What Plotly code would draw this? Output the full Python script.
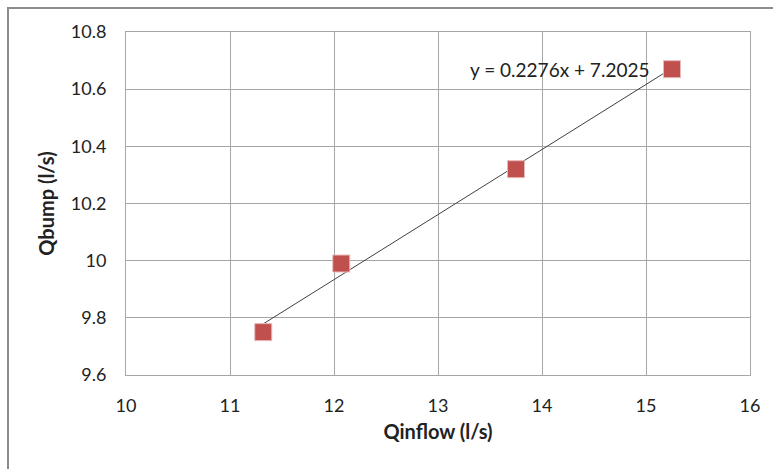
import numpy as np
import plotly.graph_objects as go

# Measured flows (l/s)
q_inflow = [11.32, 12.07, 13.75, 15.25]
q_bump = [9.75, 9.99, 10.32, 10.67]

# Linear trendline coefficients
slope = 0.2276
intercept = 7.2025

x_ticks = [10, 11, 12, 13, 14, 15, 16]
y_ticks = [9.6, 9.8, 10.0, 10.2, 10.4, 10.6, 10.8]
y_tick_text = ["9.6", "9.8", "10", "10.2", "10.4", "10.6", "10.8"]

FONT = "Lato, 'Open Sans', sans-serif"
GRID = "#a6a6a6"
TEXT = "#222"

trend_x = np.array([min(q_inflow), max(q_inflow)])
trend_y = slope * trend_x + intercept

fig = go.Figure()
fig.add_trace(go.Scatter(
    x=trend_x, y=trend_y, mode="lines",
    line=dict(color="#404040", width=1),
    hoverinfo="skip", showlegend=False,
))
fig.add_trace(go.Scatter(
    x=q_inflow, y=q_bump, mode="markers",
    marker=dict(symbol="square", size=17, color="#c0504d",
                line=dict(color="#e6b9b8", width=1)),
    showlegend=False,
))

fig.add_annotation(
    x=15.05, y=10.67, xref="x", yref="y",
    text=f"y = {slope}x + {intercept}",
    showarrow=False, xanchor="right", yanchor="middle",
    font=dict(family=FONT, size=19, color=TEXT),
)

# Chart-area border
fig.add_shape(type="rect", xref="paper", yref="paper",
              x0=-118 / 624, x1=800 / 624, y0=-120 / 343, y1=1 + 24 / 343,
              line=dict(color="#8c8c8c", width=2), layer="below")

fig.update_layout(
    width=773, height=469,
    margin=dict(l=126, r=23, t=32, b=94),
    paper_bgcolor="white", plot_bgcolor="white",
    font=dict(family=FONT, size=18, color=TEXT),
    xaxis=dict(
        range=[10, 16], tickvals=x_ticks, showgrid=True, gridcolor=GRID,
        showline=True, linecolor=GRID, mirror=True, zeroline=False,
        ticks="", ticklabelstandoff=14,
        title=dict(text="<b>Qinflow (l/s)</b>", standoff=10,
                   font=dict(family=FONT, size=20, color=TEXT)),
    ),
    yaxis=dict(
        range=[9.6, 10.8], tickvals=y_ticks, ticktext=y_tick_text,
        showgrid=True, gridcolor=GRID,
        showline=True, linecolor=GRID, mirror=True, zeroline=False,
        ticks="", ticklabelstandoff=15,
        title=dict(text="<b>Qbump (l/s)</b>", standoff=10,
                   font=dict(family=FONT, size=20, color=TEXT)),
    ),
)

fig.write_html("out.html")
